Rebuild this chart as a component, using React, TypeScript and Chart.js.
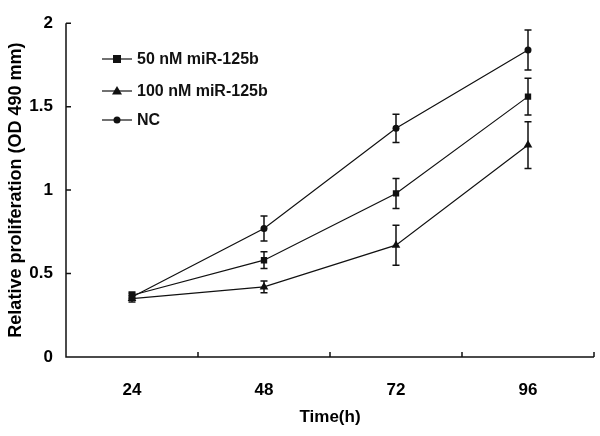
import React, { useEffect, useRef } from "react";
import { Chart, registerables } from "chart.js";

Chart.register(...registerables);

const timeLabels = ["24", "48", "72", "96"];
const series50 = [0.37, 0.58, 0.98, 1.56];
const err50 = [0.02, 0.05, 0.09, 0.11];
const series100 = [0.35, 0.42, 0.67, 1.27];
const err100 = [0.02, 0.035, 0.12, 0.14];
const seriesNC = [0.36, 0.77, 1.37, 1.84];
const errNC = [0.02, 0.075, 0.085, 0.12];
const seriesNames = ["50 nM miR-125b", "100 nM miR-125b", "NC"];
const yTicks = [0, 0.5, 1, 1.5, 2];
const yTickLabels = ["0", "0.5", "1", "1.5", "2"];

const FONT = "'Liberation Sans', Arial, sans-serif";
const INK = "#111";

const errorBarsPlugin = {
  id: "errorBars",
  afterDatasetsDraw(chart: any) {
    const ctx = chart.ctx;
    const y = chart.scales.y;
    ctx.save();
    ctx.strokeStyle = INK;
    ctx.lineWidth = 1.5;
    chart.data.datasets.forEach((ds: any, di: number) => {
      const meta = chart.getDatasetMeta(di);
      const errs: number[] = ds.errors || [];
      meta.data.forEach((pt: any, i: number) => {
        const v = ds.data[i];
        const e = errs[i] || 0;
        const yt = y.getPixelForValue(v + e);
        const yb = y.getPixelForValue(v - e);
        const x = pt.x;
        ctx.beginPath();
        ctx.moveTo(x, yt);
        ctx.lineTo(x, yb);
        ctx.moveTo(x - 3.5, yt);
        ctx.lineTo(x + 3.5, yt);
        ctx.moveTo(x - 3.5, yb);
        ctx.lineTo(x + 3.5, yb);
        ctx.stroke();
      });
    });
    ctx.restore();
  },
};

const axesPlugin = {
  id: "customAxes",
  afterDraw(chart: any) {
    const ctx = chart.ctx;
    const { left, right, top, bottom } = chart.chartArea;
    const y = chart.scales.y;
    const x = chart.scales.x;
    ctx.save();
    ctx.strokeStyle = INK;
    ctx.lineWidth = 1.5;
    ctx.beginPath();
    ctx.moveTo(left, top);
    ctx.lineTo(left, bottom);
    ctx.lineTo(right, bottom);
    yTicks.forEach((v) => {
      const py = y.getPixelForValue(v);
      ctx.moveTo(left, py);
      ctx.lineTo(left + 5, py);
    });
    const n = timeLabels.length;
    for (let i = 1; i <= n; i++) {
      const a = x.getPixelForValue(i - 1);
      const b = i < n ? x.getPixelForValue(i) : 2 * a - x.getPixelForValue(i - 2);
      const px = (a + b) / 2;
      ctx.moveTo(px, bottom);
      ctx.lineTo(px, bottom - 5);
    }
    ctx.stroke();

    const legendX = 102;
    const legendYs = [59, 91, 120];
    ctx.lineWidth = 1.2;
    chart.data.datasets.forEach((ds: any, di: number) => {
      const ly = legendYs[di];
      ctx.strokeStyle = INK;
      ctx.beginPath();
      ctx.moveTo(legendX, ly);
      ctx.lineTo(legendX + 30, ly);
      ctx.stroke();
      const cx = legendX + 15;
      ctx.fillStyle = INK;
      ctx.beginPath();
      if (ds.pointStyle === "rect") {
        ctx.rect(cx - 4, ly - 4, 8, 8);
      } else if (ds.pointStyle === "triangle") {
        ctx.moveTo(cx, ly - 5);
        ctx.lineTo(cx + 5, ly + 3.5);
        ctx.lineTo(cx - 5, ly + 3.5);
        ctx.closePath();
      } else {
        ctx.arc(cx, ly, 3.5, 0, Math.PI * 2);
      }
      ctx.fill();
      ctx.font = `bold 16px ${FONT}`;
      ctx.textBaseline = "middle";
      ctx.textAlign = "left";
      ctx.fillText(ds.label, legendX + 35, ly + 1);
    });
    ctx.restore();
  },
};

export default function App() {
  const ref = useRef<HTMLCanvasElement>(null);
  useEffect(() => {
    document.body.style.margin = "0";
    const canvas = ref.current!;
    const mk = (label: string, data: number[], errors: number[], style: string, r: number) => ({
      label,
      data,
      errors,
      borderColor: INK,
      backgroundColor: INK,
      borderWidth: 1.2,
      pointStyle: style,
      pointRadius: r,
      pointBorderWidth: 0,
      pointBackgroundColor: INK,
      tension: 0,
      fill: false,
    });
    const chart = new Chart(canvas, {
      type: "line",
      data: {
        labels: timeLabels,
        datasets: [
          mk(seriesNames[0], series50, err50, "rect", 4.5),
          mk(seriesNames[1], series100, err100, "triangle", 5),
          mk(seriesNames[2], seriesNC, errNC, "circle", 3.5),
        ] as any,
      },
      options: {
        responsive: false,
        animation: false,
        layout: { padding: { top: 13, right: 6, left: 0, bottom: 0 } },
        plugins: {
          legend: { display: false },
          tooltip: { enabled: false },
        },
        scales: {
          x: {
            type: "category",
            offset: true,
            grid: { display: false, drawTicks: false },
            border: { display: false },
            ticks: {
              color: "#000",
              padding: 23,
              font: { family: FONT, size: 17, weight: "bold" },
            },
            title: {
              display: true,
              text: "Time(h)",
              color: "#000",
              padding: { top: 0, bottom: 8 },
              font: { family: FONT, size: 17, weight: "bold" },
            },
            afterFit(scale: any) {
              scale.height = 79;
            },
          },
          y: {
            min: 0,
            max: 2,
            grid: { display: false, drawTicks: false },
            border: { display: false },
            afterBuildTicks(scale: any) {
              scale.ticks = yTicks.map((v) => ({ value: v }));
            },
            ticks: {
              color: "#000",
              padding: 13,
              font: { family: FONT, size: 17, weight: "bold" },
              callback: (v: any) => {
                const i = yTicks.indexOf(Number(v));
                return i >= 0 ? yTickLabels[i] : "";
              },
            },
            title: {
              display: true,
              text: "Relative proliferation (OD 490 mm)",
              color: "#000",
              padding: { top: 5, bottom: 0 },
              font: { family: FONT, size: 18, weight: "bold" },
            },
            afterFit(scale: any) {
              scale.width = 66;
            },
          },
        } as any,
      },
      plugins: [errorBarsPlugin, axesPlugin],
    });
    return () => chart.destroy();
  }, []);
  return (
    <div style={{ width: 600, height: 436, background: "#fff" }}>
      <canvas ref={ref} width={600} height={436} />
    </div>
  );
}
